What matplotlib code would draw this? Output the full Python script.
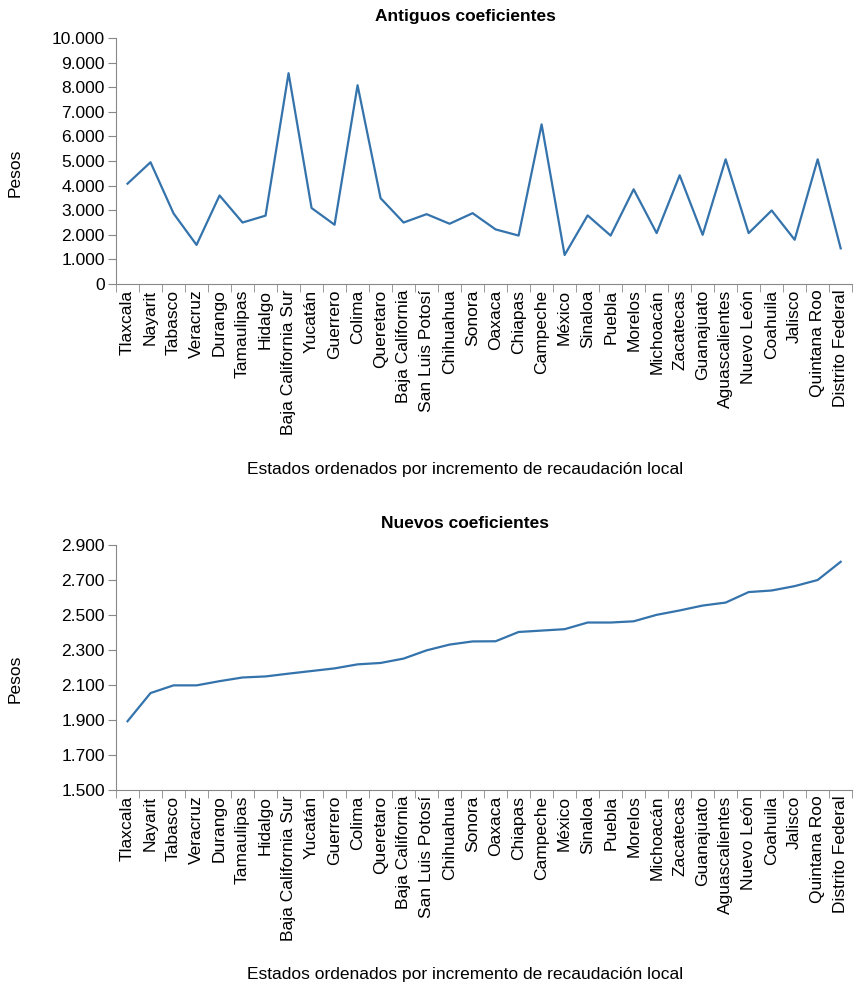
import matplotlib
matplotlib.use("Agg")
import matplotlib.pyplot as plt
from matplotlib.ticker import FuncFormatter, FixedLocator

plt.rcParams['font.family'] = ['Liberation Sans Narrow', 'Liberation Sans', 'DejaVu Sans']

estados = ['Tlaxcala', 'Nayarit', 'Tabasco', 'Veracruz', 'Durango', 'Tamaulipas', 'Hidalgo',
           'Baja California Sur', 'Yucatán', 'Guerrero', 'Colima', 'Queretaro', 'Baja California',
           'San Luis Potosí', 'Chihuahua', 'Sonora', 'Oaxaca', 'Chiapas', 'Campeche', 'México',
           'Sinaloa', 'Puebla', 'Morelos', 'Michoacán', 'Zacatecas', 'Guanajuato', 'Aguascalientes',
           'Nuevo León', 'Coahuila', 'Jalisco', 'Quintana Roo', 'Distrito Federal']

antiguos = [4080, 4950, 2870, 1590, 3600, 2500, 2780, 8570, 3090, 2410, 8080, 3490, 2500,
            2840, 2450, 2880, 2220, 1970, 6490, 1180, 2790, 1970, 3850, 2070, 4420, 2000,
            5070, 2070, 2990, 1800, 5070, 1450]

nuevos = [1893, 2054, 2098, 2098, 2122, 2143, 2149, 2165, 2180, 2195, 2218, 2226, 2251,
          2298, 2331, 2349, 2350, 2403, 2411, 2419, 2457, 2457, 2464, 2501, 2526, 2554,
          2571, 2631, 2640, 2665, 2700, 2804]

ticks_antiguos = list(range(0, 10001, 1000))
ticks_nuevos = list(range(1500, 2901, 200))

color = '#3473ab'
grey = '#888888'
fs = 12.5


def miles(v, pos):
    return '{:,.0f}'.format(v).replace(',', '.')


def dibujar(ax, valores, titulo, yticks):
    x = list(range(len(estados)))
    ax.plot(x, valores, color=color, lw=1.6)
    ax.set_xlim(-0.5, len(estados) - 0.5)
    ax.set_ylim(yticks[0], yticks[-1])
    ax.yaxis.set_major_locator(FixedLocator(yticks))
    ax.yaxis.set_major_formatter(FuncFormatter(miles))
    ax.set_xticks(x)
    ax.set_xticklabels(estados, rotation=90, fontsize=fs)
    ax.xaxis.set_minor_locator(FixedLocator([i - 0.5 for i in range(len(estados) + 1)]))
    ax.tick_params(axis='x', which='major', length=0, pad=4)
    ax.tick_params(axis='x', which='minor', length=6, color=grey)
    ax.tick_params(axis='y', length=6, color=grey, labelsize=fs, pad=2)
    for s in ['top', 'right']:
        ax.spines[s].set_visible(False)
    for s in ['left', 'bottom']:
        ax.spines[s].set_color(grey)
    ax.set_title(titulo, fontsize=fs, fontweight='bold', x=0.474, y=1.052, va='center')
    ax.set_ylabel('Pesos', fontsize=fs)
    ax.set_xlabel('Estados ordenados por incremento de recaudación local', fontsize=fs)
    ax.yaxis.set_label_coords(-0.137, 0.452)
    ax.xaxis.set_label_coords(0.474, -0.753)
    ax.xaxis.label.set_va('center')
    ax.yaxis.label.set_va('center')


fig = plt.figure(figsize=(8.55, 9.9), dpi=100)
ax1 = fig.add_axes([0.1357, 0.7131, 0.861, 0.2485])
ax2 = fig.add_axes([0.1357, 0.202, 0.861, 0.2475])

dibujar(ax1, antiguos, 'Antiguos coeficientes', ticks_antiguos)
dibujar(ax2, nuevos, 'Nuevos coeficientes', ticks_nuevos)

fig.savefig('out.png', dpi=100)
